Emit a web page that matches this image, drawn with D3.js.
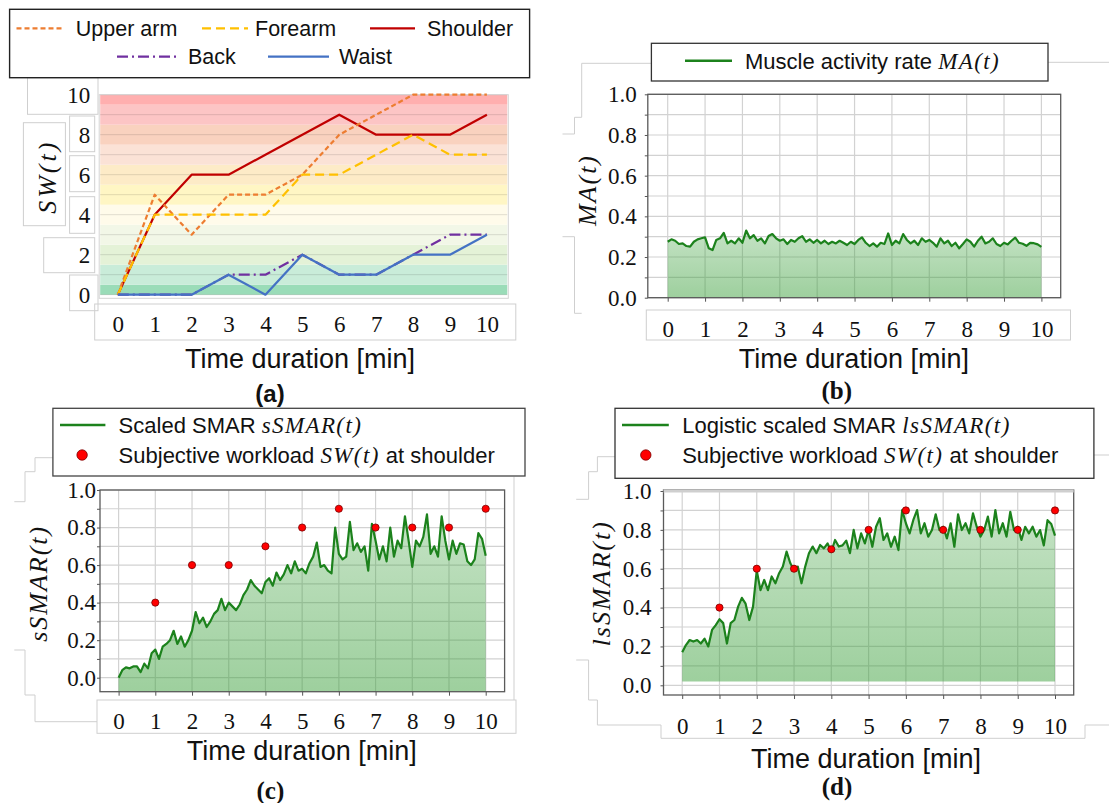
<!DOCTYPE html>
<html><head><meta charset="utf-8">
<script src="https://cdn.jsdelivr.net/npm/d3@7"></script>
<style>body{margin:0;background:#fff}svg{display:block}</style>
</head><body>
<svg id="c" width="1109" height="803"></svg>
<script>
// ---------------- DATA ----------------
const minutes = [0,1,2,3,4,5,6,7,8,9,10];
const swTicks = [0,2,4,6,8,10];
const swLevels = [0,1,2,3,4,5,6,7,8,9,10];
const upperArm = [0,5,3,5,5,6,8,9,10,10,10];
const forearm  = [0,4,4,4,4,6,6,7,8,7,7];
const shoulder = [0,4,6,6,7,8,9,8,8,8,9];
const back     = [0,0,0,1,1,2,1,1,2,3,3];
const waist    = [0,0,0,1,0,2,1,1,2,2,3];
const bodyParts = ['Shoulder','Upper arm','Forearm','Back','Waist'];

const sampleTime = [0,0.1,0.2,0.3,0.4,0.5,0.6,0.7,0.8,0.9,1,1.1,1.2,1.3,1.4,1.5,1.6,1.7,1.8,1.9,2,2.1,2.2,2.3,2.4,2.5,2.6,2.7,2.8,2.9,3,3.1,3.2,3.3,3.4,3.5,3.6,3.7,3.8,3.9,4,4.1,4.2,4.3,4.4,4.5,4.6,4.7,4.8,4.9,5,5.1,5.2,5.3,5.4,5.5,5.6,5.7,5.8,5.9,6,6.1,6.2,6.3,6.4,6.5,6.6,6.7,6.8,6.9,7,7.1,7.2,7.3,7.4,7.5,7.6,7.7,7.8,7.9,8,8.1,8.2,8.3,8.4,8.5,8.6,8.7,8.8,8.9,9,9.1,9.2,9.3,9.4,9.5,9.6,9.7,9.8,9.9,10];

const muscleActivity = [0.275,0.287,0.28,0.264,0.267,0.254,0.251,0.275,0.287,0.292,
0.297,0.243,0.234,0.284,0.292,0.319,0.267,0.28,0.267,0.292,
0.27,0.33,0.292,0.308,0.28,0.292,0.267,0.303,0.313,0.292,
0.28,0.287,0.264,0.284,0.275,0.292,0.303,0.275,0.287,0.27,
0.284,0.267,0.28,0.264,0.275,0.267,0.28,0.27,0.259,0.275,
0.264,0.284,0.297,0.27,0.254,0.267,0.251,0.27,0.264,0.316,
0.259,0.28,0.267,0.313,0.284,0.267,0.28,0.259,0.292,0.275,
0.284,0.27,0.251,0.292,0.267,0.28,0.254,0.27,0.243,0.264,
0.287,0.275,0.251,0.28,0.3,0.267,0.275,0.292,0.264,0.254,
0.27,0.262,0.28,0.295,0.27,0.265,0.255,0.27,0.268,0.262,0.25];

const scaledSMAR = [0.0,0.04,0.055,0.05,0.06,0.06,0.03,0.075,0.05,0.13,
0.15,0.1,0.165,0.18,0.2,0.25,0.18,0.22,0.165,0.2,
0.25,0.35,0.29,0.32,0.27,0.3,0.34,0.36,0.42,0.36,
0.40,0.38,0.36,0.39,0.44,0.47,0.52,0.49,0.47,0.45,
0.51,0.53,0.49,0.56,0.52,0.55,0.6,0.556,0.62,0.57,
0.58,0.556,0.61,0.645,0.72,0.59,0.6,0.57,0.556,0.80,
0.66,0.63,0.645,0.83,0.68,0.716,0.67,0.70,0.57,0.82,
0.73,0.63,0.70,0.62,0.80,0.645,0.73,0.69,0.86,0.73,
0.59,0.73,0.70,0.75,0.87,0.66,0.70,0.645,0.86,0.73,
0.63,0.73,0.66,0.716,0.71,0.62,0.60,0.63,0.77,0.74,0.65];

const logisticSMAR = [0.17,0.207,0.233,0.225,0.233,0.215,0.24,0.2,0.285,0.31,
0.34,0.32,0.215,0.32,0.336,0.405,0.45,0.42,0.336,0.405,
0.59,0.49,0.542,0.49,0.56,0.525,0.577,0.611,0.688,0.628,
0.594,0.611,0.525,0.611,0.68,0.714,0.68,0.722,0.705,0.73,
0.688,0.748,0.714,0.72,0.745,0.68,0.8,0.705,0.782,0.73,
0.799,0.713,0.816,0.86,0.748,0.782,0.713,0.765,0.696,0.902,
0.834,0.782,0.851,0.902,0.782,0.834,0.765,0.799,0.88,0.799,
0.816,0.756,0.834,0.713,0.88,0.799,0.834,0.782,0.885,0.816,
0.765,0.799,0.868,0.765,0.902,0.782,0.834,0.765,0.893,0.799,
0.816,0.748,0.816,0.782,0.816,0.765,0.799,0.72,0.85,0.83,0.77];

const shoulderMinutes = [1,2,3,4,5,6,7,8,9,10];
const shoulderSWScaled = [0.4,0.6,0.6,0.7,0.8,0.9,0.8,0.8,0.8,0.9];
const fracTicks = [0,0.2,0.4,0.6,0.8,1.0];

// ---------------- STYLES ----------------
const SANS = "'Liberation Sans', Arial, sans-serif";
const SERIF = "'Liberation Serif', 'Times New Roman', serif";
const partStyle = {
  'Upper arm': {color:'#ed7d31', dash:'5,3'},
  'Forearm':   {color:'#ffc000', dash:'9,5'},
  'Shoulder':  {color:'#c00000', dash:null},
  'Back':      {color:'#7030a0', dash:'11,4,2,4'},
  'Waist':     {color:'#4472c4', dash:null}
};
const partValues = {'Upper arm':upperArm,'Forearm':forearm,'Shoulder':shoulder,'Back':back,'Waist':waist};
const bandColors = ['#9adcb8','#c9ecd9','#e4f2d7','#f2f7e7','#fffbea','#fff6c4','#fdebc7','#fbe2d6','#f9d2bf','#fcc5c5','#ffafaf'];
const GREEN = '#1c821c';
const TICK = 23;

const svg = d3.select('#c');

// ---------------- decorative gray boxes (figure composition artifacts) ----------------
const art = svg.append('g').attr('fill','none').attr('stroke','#cfcfcf').attr('stroke-width',1);
[
 [27.5,77.7,98,114.3],[23.4,122.7,65.4,225.7],[69.6,116,94.7,151.7],[69.6,155.7,94.7,191.7],
 [69.6,196.7,94.7,233.3],[43.7,237.7,94.7,272.7],[69.6,275,98,310.7],[94.7,304,515.8,340],
 [646.3,310,1070.5,340],[97,700,516,733.3]
].forEach(r=>art.append('rect').attr('x',r[0]).attr('y',r[1]).attr('width',r[2]-r[0]).attr('height',r[3]-r[1]));
[
 'M651.4,63.3H581.7V117.3H574.5V134H562.5',
 'M562.5,236.7H574.5V313.3H581.7',
 'M1048,62.3H1109',
 'M52.9,457.7H35V471.7H25V501.7H14.3',
 'M14.3,650H25V695H35V721.7H97',
 'M514,476.7V700',
 'M615,456.7H597.4V471.7H588.6V499.3H576.2',
 'M576.2,660H588.6V700H597.4V725H661V738.3H1085V725H1109',
 'M1094,455H1109'
].forEach(p=>art.append('path').attr('d',p));

function txt(g, x, y, str, o={}){
  const t = g.append('text').attr('x',x).attr('y',y).attr('dy',o.dy||'0.35em')
    .attr('font-family',o.family||SANS).attr('font-size',o.size||22)
    .attr('text-anchor',o.anchor||'start').attr('fill','#111').text(str);
  if(o.weight) t.attr('font-weight',o.weight);
  if(o.italic) t.attr('font-style','italic');
  if(o.ls) t.attr('letter-spacing',o.ls);
  return t;
}
function mathLabel(g, x, y, before, math, o={}){
  const t = g.append('text').attr('x',x).attr('y',y).attr('dy','0.35em')
    .attr('font-family',SANS).attr('font-size',o.size||22).attr('fill','#111');
  t.append('tspan').text(before);
  t.append('tspan').attr('font-family',SERIF).attr('font-style','italic')
    .attr('font-size',(o.size||22)+1).attr('letter-spacing',1.4).text(math);
  if(o.after) t.append('tspan').text(o.after);
  return t;
}
function rotTitle(cx, cy, str, size, ls){
  svg.append('text').attr('transform',`translate(${cx},${cy}) rotate(-90)`)
    .attr('text-anchor','middle').attr('dy','0.35em')
    .attr('font-family',SERIF).attr('font-style','italic').attr('font-size',size)
    .attr('letter-spacing',ls).attr('fill','#111').text(str);
}

// ================= PANEL (a) =================
{
  const x = d3.scaleLinear([0,10],[117.8,486.9]);
  const y = d3.scaleLinear([0,10],[294.7,94.7]);
  const g = svg.append('g');
  const fL=99.2, fR=508.3, fT=94.7, fB=298.3;
  g.append('rect').attr('x',fL).attr('y',fT).attr('width',fR-fL).attr('height',fB-fT).attr('fill','#fff');
  g.selectAll('rect.band').data(swLevels).join('rect').attr('class','band')
    .attr('x',fL+1).attr('width',fR-fL-2)
    .attr('y',d=>y(Math.min(10,d+0.5)))
    .attr('height',d=>y(Math.max(0,d-0.5))-y(Math.min(10,d+0.5)))
    .attr('fill',(d,i)=>bandColors[i]);
  g.selectAll('line.grid').data(swLevels).join('line').attr('class','grid')
    .attr('x1',fL+1).attr('x2',fR-1).attr('y1',d=>y(d)).attr('y2',d=>y(d))
    .attr('stroke','rgba(0,0,0,0.12)');
  g.append('rect').attr('x',fL).attr('y',fT).attr('width',fR-fL).attr('height',fB-fT)
    .attr('fill','none').attr('stroke','#d4d4d4');
  const line = d3.line().x((d,i)=>x(minutes[i])).y(d=>y(d));
  bodyParts.forEach(p=>{
    const s = partStyle[p];
    g.append('path').attr('d',line(partValues[p])).attr('fill','none')
      .attr('stroke',s.color).attr('stroke-width',2.2)
      .attr('stroke-dasharray',s.dash).attr('stroke-linejoin','round');
  });
  const xa = g.append('g').attr('transform',`translate(0,${fB})`)
    .call(d3.axisBottom(x).tickValues(minutes).tickFormat(d3.format('d')).tickSize(0).tickPadding(17));
  xa.select('.domain').remove();
  xa.selectAll('text').attr('font-family',SERIF).attr('font-size',TICK).attr('fill','#111');
  const ya = g.append('g').attr('transform',`translate(${fL},0)`)
    .call(d3.axisLeft(y).tickValues(swTicks).tickFormat(d3.format('d')).tickSize(0).tickPadding(9));
  ya.select('.domain').remove();
  ya.selectAll('text').attr('font-family',SERIF).attr('font-size',TICK).attr('fill','#111');
  rotTitle(46.5,176.7,'SW(t)',26,3);
  txt(svg,300,358.3,'Time duration [min]',{size:27,anchor:'middle'});
  txt(svg,270,393.3,'(a)',{size:24,anchor:'middle',weight:'bold'});

  // legend (a)
  const L = svg.append('g');
  L.append('rect').attr('x',9.6).attr('y',9.3).attr('width',520).attr('height',68.4)
    .attr('fill','#fff').attr('stroke','#222').attr('stroke-width',1.4);
  const items = [
    {p:'Upper arm', x1:16.5, x2:62, tx:75.8, y:28.3},
    {p:'Forearm', x1:202, x2:248, tx:255, y:28.3},
    {p:'Shoulder', x1:370, x2:415, tx:427, y:28.3},
    {p:'Back', x1:117, x2:177, tx:188, y:56.7},
    {p:'Waist', x1:268, x2:329, tx:339, y:56.7}
  ];
  items.forEach(it=>{
    const s = partStyle[it.p];
    L.append('line').attr('x1',it.x1).attr('x2',it.x2).attr('y1',it.y).attr('y2',it.y)
      .attr('stroke',s.color).attr('stroke-width',2.2).attr('stroke-dasharray',s.dash);
    txt(L,it.tx,it.y,it.p,{size:21.5});
  });
}

// ================= signal panels (b,c,d) =================
function signalPanel(c){
  const x = d3.scaleLinear([0,10],[c.x0,c.x10]);
  const y = d3.scaleLinear([0,1],[c.y0,c.y1]);
  const g = svg.append('g');
  const gid = 'grad'+c.id;
  const grad = svg.append('defs').append('linearGradient').attr('id',gid)
    .attr('x1',0).attr('x2',0).attr('y1',0).attr('y2',1);
  grad.append('stop').attr('offset','0%').attr('stop-color','#3ca03c').attr('stop-opacity',0.3);
  grad.append('stop').attr('offset','100%').attr('stop-color','#3ca03c').attr('stop-opacity',0.5);
  // gridlines
  g.selectAll('line.h').data(y.ticks(10)).join('line').attr('class','h')
    .attr('x1',c.fL).attr('x2',c.fR).attr('y1',d=>y(d)).attr('y2',d=>y(d))
    .attr('stroke','#d2d2d2').attr('stroke-width',1.2);
  g.selectAll('line.v').data(minutes).join('line').attr('class','v')
    .attr('y1',c.fT).attr('y2',c.fB).attr('x1',d=>x(d)).attr('x2',d=>x(d))
    .attr('stroke','#d2d2d2').attr('stroke-width',1.2);
  // area + line
  const basePx = c.basePx!==undefined ? c.basePx : y(c.base);
  g.append('path').attr('d', d3.area().x((d,i)=>x(sampleTime[i])).y0(basePx).y1(d=>y(d))(c.values))
    .attr('fill',`url(#${gid})`);
  g.append('path').attr('d', d3.line().x((d,i)=>x(sampleTime[i])).y(d=>y(d))(c.values))
    .attr('fill','none').attr('stroke',GREEN).attr('stroke-width',2.2).attr('stroke-linejoin','round');
  // frame
  g.append('rect').attr('x',c.fL).attr('y',c.fT).attr('width',c.fR-c.fL).attr('height',c.fB-c.fT)
    .attr('fill','none').attr('stroke','#5a5a5a').attr('stroke-width',1.3);
  if(c.topGray) g.append('line').attr('x1',c.fL).attr('x2',c.fR).attr('y1',c.fT+1).attr('y2',c.fT+1)
    .attr('stroke','#cfcfcf').attr('stroke-width',3);
  // dots
  if(c.dots){
    g.selectAll('circle.sw').data(shoulderSWScaled).join('circle').attr('class','sw')
      .attr('cx',(d,i)=>x(shoulderMinutes[i])).attr('cy',d=>y(d)).attr('r',3.6)
      .attr('fill','#ff0000').attr('stroke','#7a0000').attr('stroke-width',0.8);
  }
  // axes
  const xa = g.append('g').attr('transform',`translate(0,${c.fB})`)
    .call(d3.axisBottom(x).tickValues(minutes).tickFormat(d3.format('d')).tickSize(4).tickPadding(c.xPad));
  xa.select('.domain').remove();
  xa.selectAll('line').attr('stroke','#555');
  xa.selectAll('text').attr('font-family',SERIF).attr('font-size',TICK).attr('fill','#111');
  const ym = g.append('g').attr('transform',`translate(${c.fL},0)`)
    .call(d3.axisLeft(y).tickValues(y.ticks(10)).tickFormat('').tickSize(3));
  ym.select('.domain').remove();
  ym.selectAll('line').attr('stroke','#555');
  const ya = g.append('g').attr('transform',`translate(${c.fL},0)`)
    .call(d3.axisLeft(y).tickValues(fracTicks).tickFormat(d3.format('.1f')).tickSize(0).tickPadding(c.yPad));
  ya.select('.domain').remove();
  ya.selectAll('text').attr('font-family',SERIF).attr('font-size',TICK).attr('fill','#111');
}

// ---- (b)
signalPanel({id:'b', x0:667.7, x10:1041.4, y0:297.7, y1:94.3, fL:647.8, fR:1060.7, fT:94.3, fB:297.7,
  values:muscleActivity, base:0, xPad:19, yPad:11});
rotTitle(587.2,190,'MA(t)',26,2);
txt(svg,853.9,358.3,'Time duration [min]',{size:27,anchor:'middle'});
txt(svg,836.8,390.7,'(b)',{size:25,anchor:'middle',weight:'bold',family:SERIF});
{
  const L = svg.append('g');
  L.append('rect').attr('x',651.4).attr('y',43.3).attr('width',396.6).attr('height',37.7)
    .attr('fill','#fff').attr('stroke','#333').attr('stroke-width',1.3);
  L.append('line').attr('x1',685).attr('x2',732).attr('y1',60.7).attr('y2',60.7)
    .attr('stroke',GREEN).attr('stroke-width',2.4);
  mathLabel(L,745,61,'Muscle activity rate ','MA(t)',{size:22});
}

// ---- (c)
signalPanel({id:'c', x0:118.6, x10:485.7, y0:677.7, y1:490, fL:100, fR:504.6, fT:490, fB:691.7,
  values:scaledSMAR, basePx:691.7, dots:true, xPad:17, yPad:4});
rotTitle(37.5,583.3,'sSMAR(t)',26,2);
txt(svg,301.8,750.7,'Time duration [min]',{size:27,anchor:'middle'});
txt(svg,270.4,790,'(c)',{size:25,anchor:'middle',weight:'bold',family:SERIF});
{
  const L = svg.append('g');
  L.append('rect').attr('x',52.9).attr('y',408.3).attr('width',472.1).attr('height',67.7)
    .attr('fill','#fff').attr('stroke','#444').attr('stroke-width',1.3);
  L.append('line').attr('x1',60).attr('x2',105.4).attr('y1',425).attr('y2',425)
    .attr('stroke',GREEN).attr('stroke-width',2.4);
  mathLabel(L,118.6,425,'Scaled SMAR ','sSMAR(t)',{size:22});
  L.append('circle').attr('cx',82.1).attr('cy',455).attr('r',5.2).attr('fill','#ff0000').attr('stroke','#7a0000').attr('stroke-width',0.8);
  mathLabel(L,118.6,455,'Subjective workload ','SW(t)',{size:22, after:' at shoulder'});
}

// ---- (d)
signalPanel({id:'d', x0:682.2, x10:1055, y0:685.3, y1:491, fL:663.5, fR:1073.7, fT:490, fB:695,
  values:logisticSMAR, base:0.02, dots:true, topGray:true, xPad:19, yPad:12});
rotTitle(601,583.3,'lsSMAR(t)',26,2);
txt(svg,866,758.3,'Time duration [min]',{size:27,anchor:'middle'});
txt(svg,837,786.7,'(d)',{size:25,anchor:'middle',weight:'bold',family:SERIF});
{
  const L = svg.append('g');
  L.append('rect').attr('x',615).attr('y',408.3).attr('width',478.9).attr('height',70)
    .attr('fill','#fff').attr('stroke','#333').attr('stroke-width',1.3);
  L.append('line').attr('x1',622).attr('x2',668.8).attr('y1',425).attr('y2',425)
    .attr('stroke',GREEN).attr('stroke-width',2.4);
  mathLabel(L,682.2,425,'Logistic scaled SMAR ','lsSMAR(t)',{size:22});
  L.append('circle').attr('cx',645.8).attr('cy',455).attr('r',5.2).attr('fill','#ff0000').attr('stroke','#7a0000').attr('stroke-width',0.8);
  mathLabel(L,682.2,455,'Subjective workload ','SW(t)',{size:22, after:' at shoulder'});
}
</script>
</body></html>
